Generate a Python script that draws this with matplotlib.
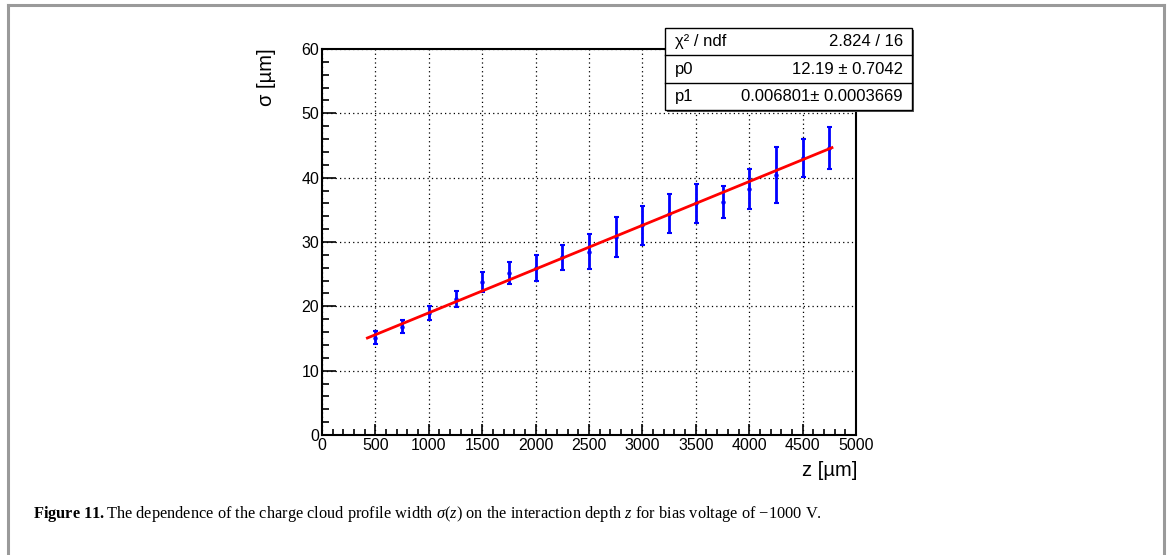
import matplotlib
matplotlib.use("Agg")
import matplotlib.pyplot as plt
import numpy as np
from matplotlib.patches import Rectangle
from matplotlib.lines import Line2D

# ---- data ----
z_um = [500, 750, 1000, 1250, 1500, 1750, 2000, 2250, 2500,
        2750, 3000, 3250, 3500, 3750, 4000, 4250, 4500, 4750]
sigma_um = [15.1, 16.8, 19.0, 21.2, 23.8, 25.2, 26.0, 27.6, 28.5,
            30.8, 32.6, 34.4, 36.0, 36.2, 38.2, 40.4, 43.0, 44.6]
sigma_err = [1.0, 1.0, 1.1, 1.25, 1.55, 1.7, 2.05, 2.0, 2.7,
             3.1, 3.0, 3.0, 3.0, 2.5, 3.1, 4.3, 2.95, 3.2]
fit_p0 = 12.19
fit_p1 = 0.006801
fit_range = [425, 4775]
stats_labels = ["χ² / ndf", "p0", "p1"]
stats_values = ["2.824 / 16", "12.19 ± 0.7042", "0.006801± 0.0003669"]
x_ticks = [0, 500, 1000, 1500, 2000, 2500, 3000, 3500, 4000, 4500, 5000]
y_ticks = [0, 10, 20, 30, 40, 50, 60]

W, H = 1170, 555
fig = plt.figure(figsize=(W / 100, H / 100), dpi=100)
fig.patch.set_facecolor("white")

def fx(px):
    return px / W

def fy(py):
    return 1 - py / H

SANS = "Liberation Sans"

# figure frame (gray, open at bottom)
for (x0, y0, x1, y1) in [(8, 5, 8, H), (8, 5, 1164, 5), (1164, 5, 1164, H)]:
    fig.add_artist(Line2D([fx(x0), fx(x1)], [fy(y0), fy(y1)],
                          transform=fig.transFigure, color="#9a9a9a", lw=2.2))

ax = fig.add_axes([fx(322), fy(435), fx(856) - fx(322), fy(49) - fy(435)])
ax.set_xlim(0, 5000)
ax.set_ylim(0, 60)

ax.set_xticks(x_ticks)
ax.set_yticks(y_ticks)
ax.set_xticks(np.arange(0, 5001, 100), minor=True)
ax.set_yticks(np.arange(0, 61, 2), minor=True)
ax.tick_params(axis="x", which="major", direction="in", length=8, width=1.2)
ax.tick_params(axis="x", which="minor", direction="in", length=4, width=1.2)
ax.tick_params(axis="y", which="major", direction="in", length=10, width=1.2)
ax.tick_params(axis="y", which="minor", direction="in", length=5, width=1.2)
ax.tick_params(labelsize=11.5, pad=2)
for lab in ax.get_xticklabels() + ax.get_yticklabels():
    lab.set_fontfamily(SANS)
ax.grid(True, which="major", linestyle=(0, (1, 2.5)), color="black", lw=0.9)
for s in ax.spines.values():
    s.set_linewidth(1.5)

# data with error bars
ax.errorbar(z_um, sigma_um, yerr=sigma_err, fmt="o", color="#0000ff",
            ms=2.2, elinewidth=2, capsize=1.8, capthick=1.5, zorder=3)

# fit line
zf = np.array(fit_range, dtype=float)
ax.plot(zf, fit_p0 + fit_p1 * zf, color="#ff0000", lw=2, zorder=4)

# axis labels (ROOT-style positions)
fig.text(fx(857), fy(470), "z [µm]", ha="right", va="center",
         fontsize=14.5, family=SANS)
fig.text(fx(266), fy(48), "σ [µm]", ha="center", va="top", rotation=90,
         fontsize=14.5, family=SANS)

# stats box
bx0, by0, bx1, by1 = 665, 28, 912, 110
fig.add_artist(Rectangle((fx(bx0 + 2), fy(by1 + 2)), fx(bx1) - fx(bx0), fy(by0) - fy(by1),
                         transform=fig.transFigure, facecolor="#555555",
                         edgecolor="none", zorder=9))
fig.add_artist(Rectangle((fx(bx0), fy(by1)), fx(bx1) - fx(bx0), fy(by0) - fy(by1),
                         transform=fig.transFigure, facecolor="white",
                         edgecolor="black", lw=1, zorder=10))
row_h = (by1 - by0) / 3
for i in (1, 2):
    yy = by0 + i * row_h
    fig.add_artist(Line2D([fx(bx0), fx(bx1)], [fy(yy), fy(yy)],
                          transform=fig.transFigure, color="black", lw=1, zorder=11))
for i, (lab, val) in enumerate(zip(stats_labels, stats_values)):
    yc = by0 + (i + 0.5) * row_h
    fig.text(fx(bx0 + 10), fy(yc), lab, ha="left", va="center",
             fontsize=12, family=SANS, zorder=12)
    fig.text(fx(bx1 - 9), fy(yc), val, ha="right", va="center",
             fontsize=12, family=SANS, zorder=12)

# caption
plt.rcParams["mathtext.fontset"] = "custom"
plt.rcParams["mathtext.rm"] = "Liberation Serif"
plt.rcParams["mathtext.it"] = "Liberation Serif:italic"
plt.rcParams["mathtext.bf"] = "Liberation Serif:bold"
caption = (r"$\mathbf{Figure\ 11.}$The dependence of the charge cloud profile width "
           r"$\sigma(z)$ on the interaction depth $z$ for bias voltage of −1000 V.")
fig.text(fx(33), fy(514), caption, ha="left", va="center",
         fontsize=11.8, family="Liberation Serif")

fig.savefig("out.png", dpi=100, facecolor="white")
